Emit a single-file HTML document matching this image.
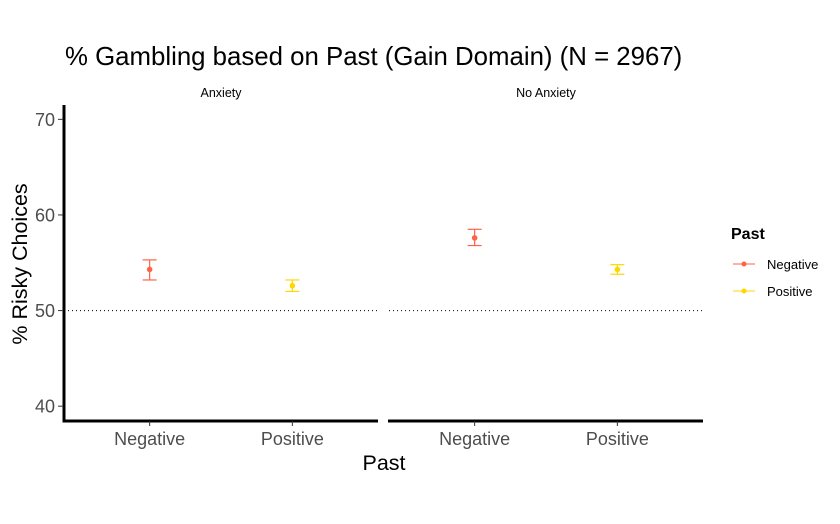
<!DOCTYPE html>
<html><head><meta charset="utf-8"><style>
body{margin:0;background:#fff;font-family:"Liberation Sans",Arial,sans-serif}
</style></head><body>
<svg width="840" height="519" xmlns="http://www.w3.org/2000/svg" font-family="Liberation Sans, Arial, sans-serif">
<rect width="840" height="519" fill="#fff"/>
<text x="65" y="65" font-size="25.8" fill="#000">% Gambling based on Past (Gain Domain) (N = 2967)</text>
<g id="plot"></g>
<text x="384" y="470" font-size="21.5" text-anchor="middle">Past</text>
<text transform="translate(27,264) rotate(-90)" font-size="21.5" text-anchor="middle">% Risky Choices</text>
<g>
<text x="731" y="239" font-size="16" font-weight="bold">Past</text>
<g><line x1="733" x2="755" y1="264" y2="264" stroke="#FF6347"/><circle cx="744" cy="264" r="2.5" fill="#FF6347"/><text x="767" y="269" font-size="13">Negative</text></g>
<g><line x1="733" x2="755" y1="291" y2="291" stroke="#FFD700"/><circle cx="744" cy="291" r="2.5" fill="#FFD700"/><text x="767" y="296" font-size="13">Positive</text></g>
</g>
</svg>
<script>
const panels=["Anxiety","No Anxiety"];
const categories=["Negative","Positive"];
const means=[[54.3,52.6],[57.6,54.3]];
const lower=[[53.2,52.0],[56.8,53.8]];
const upper=[[55.3,53.2],[58.5,54.8]];
const yTicks=[40,50,60,70];
const colors=["#FF6347","#FFD700"];
const NS="http://www.w3.org/2000/svg";
const g=document.getElementById("plot");
function mk(t,a,p){const e=document.createElementNS(NS,t);for(const k in a)e.setAttribute(k,a[k]);(p||g).appendChild(e);return e;}
const yTop=105,yBot=421,yMin=38.45,yMax=71.5;
function y(v){return yBot-(v-yMin)/(yMax-yMin)*(yBot-yTop);}
const pLeft=[64,389],pW=314;
function x(p,i){return pLeft[p]+(i+1-0.4)/2.2*pW;}
panels.forEach((name,p)=>{
 const pg=mk("g",{});
 
 
 const st=mk("text",{x:pLeft[p]+pW/2,y:97,"font-size":12.5,"text-anchor":"middle"},pg);st.textContent=name;
 
 
 const ref=mk("line",{x1:pLeft[p],x2:pLeft[p]+pW,y1:y(50),y2:y(50),stroke:"#000","stroke-dasharray":"1,3"},pg);
 
 
 const xa=mk("line",{x1:pLeft[p]-1,x2:pLeft[p]+pW,y1:yBot,y2:yBot,stroke:"#000","stroke-width":3},pg);
 
 
 categories.forEach((c,i)=>{
  const cx=x(p,i);
  mk("line",{x1:cx,x2:cx,y1:yBot,y2:yBot+5,stroke:"#333"},pg);
  const t=mk("text",{x:cx,y:445,"font-size":18,"text-anchor":"middle",fill:"#4d4d4d"},pg);t.textContent=c;
  
  
  const eb=mk("g",{stroke:colors[i],"stroke-width":1.2},pg);
  
  
  mk("line",{x1:cx,x2:cx,y1:y(upper[p][i]),y2:y(lower[p][i])},eb);
  mk("line",{x1:cx-7,x2:cx+7,y1:y(upper[p][i]),y2:y(upper[p][i])},eb);
  mk("line",{x1:cx-7,x2:cx+7,y1:y(lower[p][i]),y2:y(lower[p][i])},eb);
  const pt=mk("circle",{cx:cx,cy:y(means[p][i]),r:2.8,fill:colors[i]},pg);
  
  
 });
});
const ya=mk("line",{x1:64,x2:64,y1:yTop,y2:yBot+1.5,stroke:"#000","stroke-width":3});


yTicks.forEach(v=>{
 mk("line",{x1:58,x2:63,y1:y(v),y2:y(v),stroke:"#333"});
 const t=mk("text",{x:55,y:y(v)+6.5,"font-size":18,"text-anchor":"end",fill:"#4d4d4d"});t.textContent=v;
 
 
});
</script>
</body></html>
